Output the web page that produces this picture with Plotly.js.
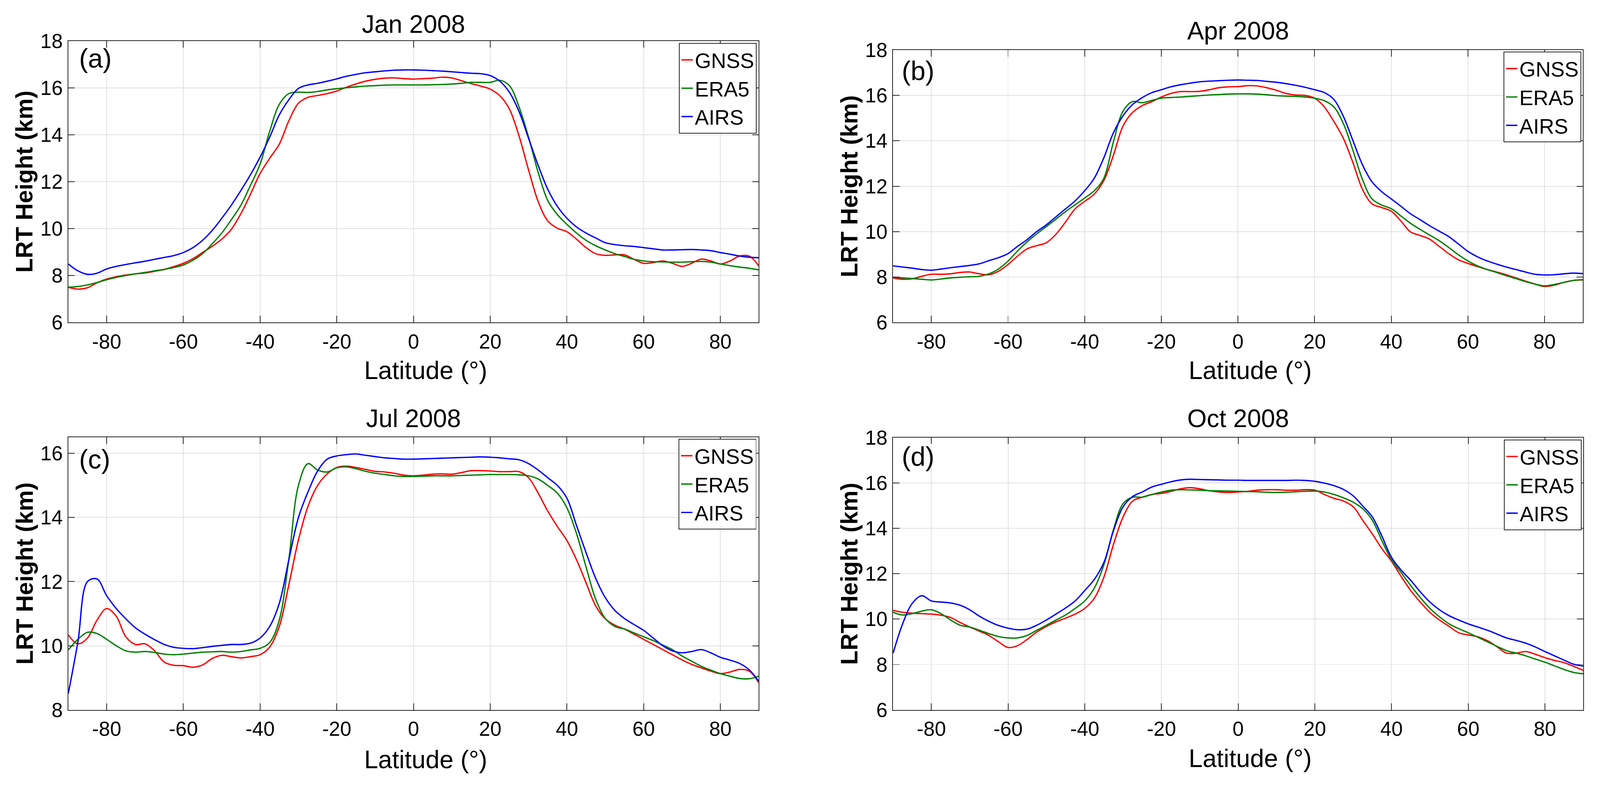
<!DOCTYPE html>
<html><head><meta charset="utf-8">
<script src="https://cdn.plot.ly/plotly-3.0.1.min.js"></script>
<style>html,body{margin:0;padding:0;background:#fff;overflow:hidden}#wrap{width:4205px;height:2055px;transform-origin:0 0}#chart{width:4205px;height:2055px}</style>
</head><body><div id="wrap"><div id="chart"></div></div>
<script>
// ---------------- DATA ----------------
const lat = [-90,-87.5,-85,-82.5,-80,-77.5,-75,-72.5,-70,-67.5,-65,-62.5,-60,-57.5,-55,-52.5,-50,-47.5,-45,-42.5,-40,-37.5,-35,-32.5,-30,-27.5,-25,-22.5,-20,-17.5,-15,-12.5,-10,-7.5,-5,-2.5,0,2.5,5,7.5,10,12.5,15,17.5,20,22.5,25,27.5,30,32.5,35,37.5,40,42.5,45,47.5,50,52.5,55,57.5,60,62.5,65,67.5,70,72.5,75,77.5,80,82.5,85,87.5,90];

const seriesNames = ['GNSS','ERA5','AIRS'];
const panelTitles = ['Jan 2008','Apr 2008','Jul 2008','Oct 2008'];
const panelLabels = ['(a)','(b)','(c)','(d)'];
const xTickVals = [-80,-60,-40,-20,0,20,40,60,80];
const yTickVals = [6,8,10,12,14,16,18];
const yTickValsJul = [8,10,12,14,16];

const janGNSS = [7.50,7.42,7.48,7.69,7.85,7.95,8.02,8.07,8.11,8.18,8.26,8.38,8.52,8.72,8.98,9.24,9.55,9.97,10.64,11.47,12.35,13.00,13.60,14.60,15.35,15.60,15.68,15.76,15.87,16.03,16.17,16.29,16.37,16.42,16.43,16.40,16.38,16.40,16.42,16.46,16.43,16.31,16.19,16.08,15.95,15.67,15.10,13.96,12.50,11.16,10.33,10.02,9.87,9.55,9.19,8.93,8.86,8.88,8.88,8.69,8.52,8.55,8.62,8.52,8.39,8.52,8.70,8.62,8.49,8.62,8.83,8.83,8.41];
const janERA5 = [7.50,7.53,7.60,7.70,7.82,7.92,8.00,8.07,8.13,8.20,8.26,8.34,8.45,8.65,8.93,9.35,9.81,10.38,11.00,11.85,12.75,14.15,15.30,15.76,15.82,15.81,15.85,15.92,15.97,16.01,16.05,16.08,16.10,16.12,16.13,16.13,16.13,16.13,16.14,16.15,16.17,16.20,16.24,16.24,16.24,16.33,16.10,15.20,13.90,12.40,11.20,10.60,10.18,9.81,9.50,9.27,9.09,8.93,8.81,8.69,8.62,8.59,8.58,8.57,8.57,8.59,8.60,8.57,8.49,8.42,8.36,8.31,8.24];
const janAIRS = [8.49,8.20,8.05,8.10,8.28,8.39,8.47,8.54,8.61,8.69,8.77,8.85,8.98,9.19,9.50,9.92,10.44,11.00,11.63,12.30,13.05,13.90,14.85,15.50,15.98,16.13,16.20,16.29,16.39,16.50,16.58,16.65,16.69,16.73,16.76,16.77,16.77,16.76,16.74,16.72,16.69,16.66,16.63,16.61,16.53,16.29,15.82,15.00,13.85,12.70,11.68,10.95,10.44,10.07,9.81,9.60,9.40,9.32,9.27,9.24,9.19,9.14,9.09,9.09,9.10,9.11,9.09,9.06,8.98,8.91,8.83,8.78,8.76];

const aprGNSS = [7.96,7.90,7.92,8.03,8.12,8.12,8.14,8.20,8.22,8.14,8.10,8.25,8.55,8.92,9.24,9.38,9.51,9.88,10.42,11.00,11.33,11.65,12.25,13.36,14.65,15.25,15.55,15.72,15.93,16.09,16.17,16.17,16.18,16.25,16.34,16.38,16.39,16.43,16.42,16.34,16.23,16.09,16.02,16.00,15.88,15.50,14.86,14.11,13.04,11.86,11.22,11.06,10.90,10.47,9.99,9.83,9.67,9.35,9.03,8.76,8.60,8.46,8.33,8.22,8.10,7.96,7.82,7.69,7.58,7.64,7.76,7.85,7.87];
const aprERA5 = [7.99,7.96,7.93,7.90,7.87,7.91,7.96,7.99,8.01,8.03,8.14,8.35,8.70,9.15,9.55,9.90,10.22,10.55,10.88,11.18,11.48,11.80,12.35,13.95,15.30,15.73,15.68,15.78,15.88,15.91,15.93,15.96,15.99,16.02,16.04,16.06,16.07,16.07,16.06,16.03,15.99,15.97,15.96,15.93,15.88,15.77,15.50,14.76,13.58,12.29,11.44,11.17,11.01,10.69,10.37,10.10,9.85,9.60,9.30,8.98,8.71,8.49,8.33,8.20,8.06,7.93,7.80,7.69,7.61,7.67,7.76,7.85,7.88];
const aprAIRS = [8.49,8.44,8.39,8.33,8.30,8.35,8.41,8.46,8.51,8.58,8.72,8.85,9.03,9.35,9.65,10.00,10.30,10.65,11.00,11.35,11.80,12.35,13.25,14.35,15.10,15.60,15.90,16.12,16.25,16.38,16.47,16.54,16.60,16.63,16.65,16.67,16.68,16.67,16.66,16.62,16.58,16.52,16.45,16.36,16.25,16.13,15.83,15.08,14.01,12.94,12.19,11.76,11.44,11.12,10.79,10.53,10.26,10.02,9.78,9.46,9.13,8.89,8.71,8.57,8.44,8.33,8.22,8.12,8.09,8.10,8.14,8.17,8.15];

const julGNSS = [10.34,10.06,10.24,10.80,11.16,10.92,10.28,10.04,10.06,9.84,9.49,9.39,9.38,9.33,9.40,9.60,9.70,9.66,9.62,9.66,9.72,9.96,10.60,11.90,13.30,14.35,15.00,15.36,15.56,15.60,15.56,15.50,15.44,15.42,15.38,15.32,15.30,15.32,15.35,15.36,15.35,15.40,15.46,15.46,15.45,15.43,15.43,15.43,15.24,14.76,14.20,13.72,13.28,12.68,11.96,11.24,10.84,10.64,10.52,10.36,10.20,10.04,9.88,9.72,9.56,9.42,9.31,9.21,9.13,9.18,9.26,9.21,8.85];
const julERA5 = [9.87,10.20,10.42,10.38,10.20,10.00,9.84,9.80,9.82,9.79,9.74,9.72,9.74,9.77,9.80,9.81,9.82,9.80,9.82,9.87,9.92,10.10,10.80,12.70,15.00,15.68,15.48,15.42,15.55,15.58,15.52,15.44,15.38,15.34,15.30,15.28,15.28,15.29,15.30,15.30,15.30,15.31,15.32,15.33,15.34,15.34,15.34,15.33,15.30,15.20,15.00,14.76,14.30,13.50,12.45,11.45,10.85,10.60,10.52,10.40,10.28,10.16,10.02,9.88,9.68,9.52,9.36,9.24,9.13,9.05,8.98,8.97,9.05];
const julAIRS = [8.51,10.12,12.00,12.08,11.56,11.16,10.84,10.56,10.36,10.19,10.04,9.95,9.92,9.91,9.94,9.98,10.01,10.04,10.04,10.08,10.24,10.60,11.32,12.68,14.00,14.80,15.45,15.82,15.92,15.96,15.98,15.94,15.90,15.86,15.84,15.82,15.82,15.83,15.84,15.85,15.86,15.87,15.88,15.89,15.88,15.86,15.83,15.80,15.68,15.48,15.24,15.00,14.60,13.75,12.90,12.10,11.50,11.10,10.85,10.66,10.48,10.24,10.00,9.84,9.78,9.82,9.88,9.78,9.64,9.55,9.45,9.25,8.89];

const octGNSS = [10.38,10.30,10.26,10.24,10.22,10.17,10.07,9.85,9.65,9.47,9.28,9.00,8.75,8.83,9.11,9.43,9.68,9.88,10.04,10.22,10.47,10.92,11.85,13.30,14.50,15.20,15.37,15.49,15.54,15.63,15.74,15.79,15.74,15.65,15.60,15.58,15.60,15.63,15.68,15.70,15.70,15.68,15.68,15.70,15.68,15.49,15.32,15.20,14.95,14.35,13.75,13.10,12.55,11.88,11.26,10.75,10.30,9.96,9.68,9.40,9.30,9.22,9.05,8.78,8.50,8.50,8.57,8.45,8.30,8.18,8.08,7.92,7.74];
const octERA5 = [10.30,10.18,10.24,10.35,10.41,10.24,9.96,9.73,9.65,9.51,9.36,9.23,9.17,9.17,9.28,9.51,9.73,9.96,10.18,10.47,10.80,11.37,12.40,13.95,15.09,15.37,15.37,15.49,15.60,15.68,15.70,15.69,15.68,15.66,15.65,15.64,15.63,15.62,15.61,15.59,15.58,15.59,15.61,15.63,15.64,15.60,15.49,15.34,15.15,14.86,14.35,13.45,12.61,12.05,11.48,10.95,10.47,10.10,9.79,9.58,9.40,9.20,9.00,8.80,8.61,8.50,8.38,8.24,8.10,7.94,7.78,7.65,7.59];
const octAIRS = [8.49,9.79,10.69,11.03,10.80,10.75,10.71,10.61,10.41,10.13,9.90,9.72,9.60,9.53,9.56,9.73,9.96,10.22,10.49,10.80,11.26,11.75,12.50,13.90,14.95,15.40,15.60,15.82,15.94,16.05,16.13,16.16,16.15,16.14,16.13,16.12,16.12,16.11,16.11,16.11,16.11,16.11,16.12,16.11,16.07,15.99,15.88,15.71,15.43,14.98,14.50,13.65,12.72,12.16,11.71,11.20,10.75,10.41,10.15,9.96,9.79,9.65,9.51,9.34,9.17,9.06,8.94,8.77,8.57,8.38,8.19,8.01,7.93];

// ---------------- LAYOUT / STYLE ----------------
const W = 4205, H = 2055;
const FONT = 'Arial, "Liberation Sans", Helvetica, sans-serif';
const colors = ['#ff0000', '#008000', '#0000ff'];

// fit the fixed-size figure into the real viewport
(function fit() {
  const vw = window.innerWidth || W, vh = window.innerHeight || H;
  const s = Math.min(vw / W, vh / H);
  if (s > 0 && Math.abs(s - 1) > 0.002) {
    document.getElementById('wrap').style.transform = 'scale(' + s + ')';
  }
})();

const panelData = [
  [janGNSS, janERA5, janAIRS],
  [aprGNSS, aprERA5, aprAIRS],
  [julGNSS, julERA5, julAIRS],
  [octGNSS, octERA5, octAIRS]
];
// plot boxes in pixels (left, right, top, bottom)
const boxes = [
  {l:179.5, r:1994, t:108,   b:847},
  {l:2347,  r:4160, t:131.5, b:847},
  {l:179.5, r:1994, t:1149,  b:1865},
  {l:2347,  r:4161, t:1149.5,b:1865}
];
const yRanges = [[6,18],[6,18],[8,16.5],[6,18]];
const yTicks = [yTickVals, yTickVals, yTickValsJul, yTickVals];
const titleY = [63.4, 81.4, 1099.4, 1099.4];
const labelPos = [{x:206,y:154},{x:2368,y:186},{x:206,y:1207},{x:2368,y:1200}];
const xTitleY = [973, 973, 1995, 1992];
const legendPos = [{x:1989,y:113},{x:4156,y:136},{x:1988,y:1153},{x:4157,y:1155}];

const px = v => v / W;
const py = v => 1 - v / H;

const traces = [];
const layout = {
  width: W, height: H,
  margin: {l:0, r:0, t:0, b:0, pad:0},
  paper_bgcolor: '#ffffff', plot_bgcolor: '#ffffff',
  font: {family: FONT, color: '#000000'},
  annotations: []
};

panelData.forEach((series, i) => {
  const sfx = i === 0 ? '' : String(i + 1);
  const legKey = 'legend' + sfx;
  series.forEach((vals, s) => {
    traces.push({
      x: lat, y: vals, type: 'scatter', mode: 'lines',
      name: seriesNames[s],
      line: {color: colors[s], width: 3.5, shape: 'spline', smoothing: 1},
      xaxis: 'x' + sfx, yaxis: 'y' + sfx,
      legend: legKey, showlegend: true, hoverinfo: 'skip'
    });
  });
  const b = boxes[i];
  const axCommon = {
    showline: true, linecolor: '#262626', linewidth: 2, mirror: 'ticks',
    ticks: 'inside', ticklen: 17, tickwidth: 2, tickcolor: '#262626',
    showgrid: true, gridcolor: '#e1e1e1', gridwidth: 2, zeroline: false,
    tickfont: {family: FONT, size: 53, color: '#000000'},
    automargin: false, fixedrange: true
  };
  layout['xaxis' + sfx] = Object.assign({}, axCommon, {
    domain: [px(b.l), px(b.r)], anchor: 'y' + sfx,
    range: [-90, 90], tickmode: 'array', tickvals: xTickVals,
    ticktext: xTickVals.map(String), ticklabelstandoff: 3
  });
  layout['yaxis' + sfx] = Object.assign({}, axCommon, {
    domain: [py(b.b), py(b.t)], anchor: 'x' + sfx,
    range: yRanges[i], tickmode: 'array', tickvals: yTicks[i],
    ticktext: yTicks[i].map(String), ticklabelstandoff: 2
  });
  layout[legKey] = {
    x: px(legendPos[i].x), y: py(legendPos[i].y), xanchor: 'right', yanchor: 'top',
    xref: 'paper', yref: 'paper',
    bgcolor: '#ffffff', bordercolor: '#262626', borderwidth: 2,
    font: {family: FONT, size: 55, color: '#000000'},
    tracegroupgap: 0
  };
  const cx = (b.l + b.r) / 2;
  layout.annotations.push({
    text: panelTitles[i], xref: 'paper', yref: 'paper',
    x: px(cx), y: py(titleY[i]), xanchor: 'center', yanchor: 'middle',
    showarrow: false, font: {family: FONT, size: 66, color: '#000000'}
  });
  layout.annotations.push({
    text: panelLabels[i], xref: 'paper', yref: 'paper',
    x: px(labelPos[i].x), y: py(labelPos[i].y), xanchor: 'left', yanchor: 'middle',
    showarrow: false, font: {family: FONT, size: 70, color: '#000000'}
  });
  layout.annotations.push({
    text: 'Latitude (°)', xref: 'paper', yref: 'paper',
    x: px(cx + 32), y: py(xTitleY[i]), xanchor: 'center', yanchor: 'middle',
    showarrow: false, font: {family: FONT, size: 66, color: '#000000'}
  });
  layout.annotations.push({
    text: '<b>LRT Height (km)</b>', xref: 'paper', yref: 'paper',
    x: px(b.l - 115.5), y: py((b.t + b.b) / 2), xanchor: 'center', yanchor: 'middle',
    textangle: -90, showarrow: false, font: {family: FONT, size: 62, color: '#000000'}
  });
});

Plotly.newPlot('chart', traces, layout, {displayModeBar: false, staticPlot: true});
</script>
</body></html>
